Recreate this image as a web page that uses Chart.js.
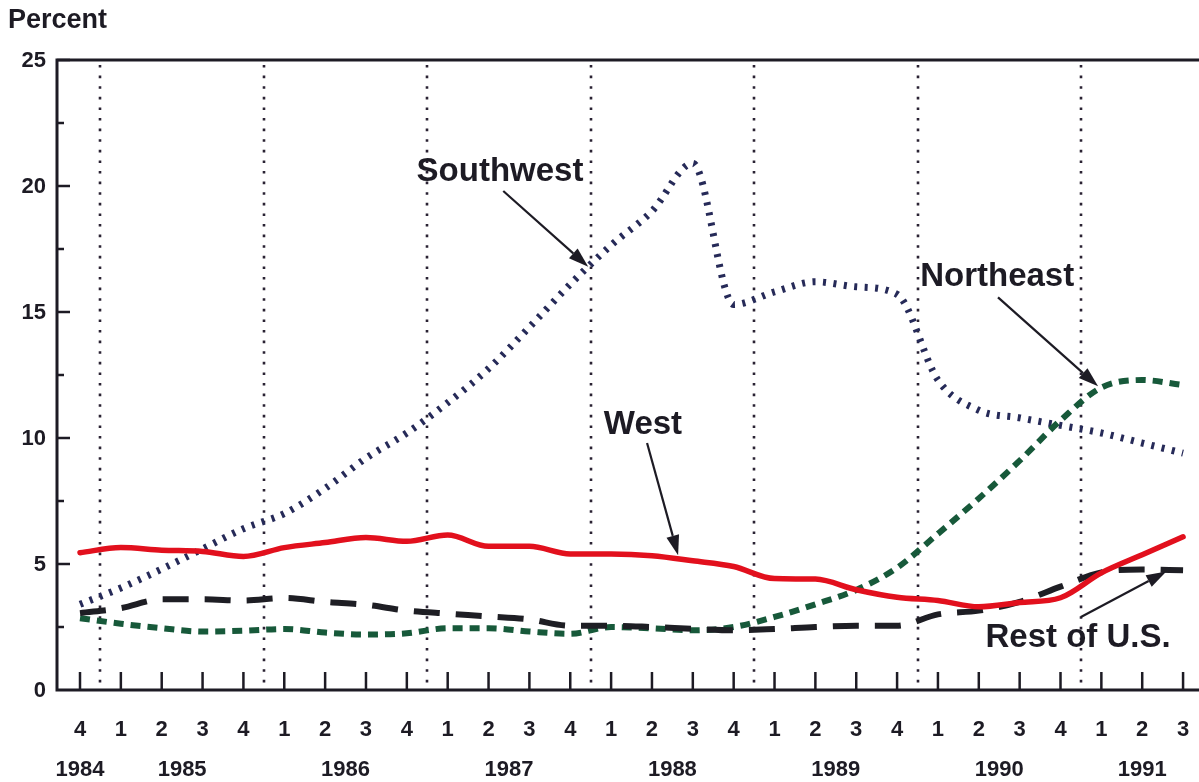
<!DOCTYPE html>
<html>
<head>
<meta charset="utf-8">
<title>Percent by region, 1984-1991</title>
<script src="https://cdn.jsdelivr.net/npm/chart.js@4.4.1/dist/chart.umd.min.js"></script>
<style>
  html, body { margin: 0; padding: 0; background: #fff; }
  #wrap { width: 1199px; height: 782px; }
</style>
</head>
<body>
<div id="wrap"><canvas id="regionChart" width="1199" height="782"></canvas></div>
<script>
// Quarter tick labels, 1984 Q4 through 1991 Q3
const quarterLabels = ['4', '1', '2', '3', '4', '1', '2', '3', '4', '1', '2', '3', '4', '1',
                       '2', '3', '4', '1', '2', '3', '4', '1', '2', '3', '4', '1', '2', '3'];
const quarterYears = [1984, 1985, 1985, 1985, 1985, 1986, 1986, 1986, 1986, 1987, 1987, 1987, 1987, 1988,
                      1988, 1988, 1988, 1989, 1989, 1989, 1989, 1990, 1990, 1990, 1990, 1991, 1991, 1991];
const yTickLabels = [0, 5, 10, 15, 20, 25];

// Series values (percent)
const west = [5.45, 5.65, 5.55, 5.5, 5.3, 5.65, 5.85, 6.05, 5.9, 6.15, 5.7, 5.7, 5.4, 5.4,
              5.33, 5.13, 4.9, 4.42, 4.4, 3.98, 3.68, 3.55, 3.3, 3.47, 3.66, 4.65, 5.37, 6.08];
const restOfUS = [3.05, 3.25, 3.6, 3.6, 3.55, 3.65, 3.5, 3.38, 3.15, 3.03, 2.92, 2.8, 2.55, 2.55,
                  2.5, 2.43, 2.37, 2.42, 2.5, 2.55, 2.55, 3.0, 3.15, 3.5, 4.1, 4.67, 4.78, 4.75];
const northeast = [2.85, 2.63, 2.45, 2.32, 2.35, 2.42, 2.28, 2.2, 2.25, 2.45, 2.45, 2.32, 2.23, 2.5,
                   2.45, 2.37, 2.5, 2.9, 3.4, 3.97, 4.85, 6.2, 7.6, 9.1, 10.7, 12.0, 12.3, 12.1];
const southwest = [3.4, 4.05, 4.8, 5.6, 6.4, 7.0, 8.0, 9.2, 10.2, 11.4, 12.75, 14.4, 16.1, 17.65,
                   19.0, 20.9, 15.3, 15.8, 16.2, 16.0, 15.7, 12.3, 11.1, 10.8, 10.5, 10.2, 9.8, 9.4];

const FONT = '"Liberation Sans", Arial, Helvetica, sans-serif';
const INK = '#1d1b24';

// Callout labels, in data units (quarter index, percent)
const callouts = [
    { text: 'Southwest', at: [10.28, 20.55], from: [10.36, 19.8], to: [12.44, 16.8] },
    { text: 'West', at: [13.78, 10.53], from: [13.88, 9.8], to: [14.64, 5.35] },
    { text: 'Northeast', at: [22.45, 16.38], from: [22.47, 15.58], to: [24.92, 12.05] },
    { text: 'Rest of U.S.', at: [24.43, 2.05], from: [24.5, 2.9], to: [26.59, 4.7] }
];

function toPoints(values) {
    return values.map((v, i) => ({ x: i, y: v }));
}

function drawArrow(ctx, x1, y1, x2, y2) {
    const ang = Math.atan2(y2 - y1, x2 - x1);
    const headLen = 20, headHalf = 6.5;
    const bx = x2 - headLen * Math.cos(ang);
    const by = y2 - headLen * Math.sin(ang);
    ctx.beginPath();
    ctx.moveTo(x1, y1);
    ctx.lineTo(bx, by);
    ctx.stroke();
    ctx.beginPath();
    ctx.moveTo(x2, y2);
    ctx.lineTo(bx + headHalf * Math.sin(ang), by - headHalf * Math.cos(ang));
    ctx.lineTo(bx - headHalf * Math.sin(ang), by + headHalf * Math.cos(ang));
    ctx.closePath();
    ctx.fill();
}

const framePlugin = {
    id: 'frame',
    beforeDatasetsDraw(chart) {
        const { ctx, chartArea: a, scales: { x } } = chart;
        ctx.save();
        // dotted separators between years
        ctx.strokeStyle = '#2a2233';
        ctx.lineWidth = 2.6;
        ctx.setLineDash([2.6, 8]);
        for (let i = 0; i < quarterYears.length - 1; i++) {
            if (quarterYears[i] !== quarterYears[i + 1]) {
                const px = Math.round(x.getPixelForValue(i + 0.5));
                ctx.beginPath();
                ctx.moveTo(px, a.top + 5);
                ctx.lineTo(px, a.bottom - 2);
                ctx.stroke();
            }
        }
        ctx.restore();
    },
    afterDatasetsDraw(chart) {
        const { ctx, chartArea: a, scales: { x, y } } = chart;
        ctx.save();
        ctx.strokeStyle = INK;
        ctx.fillStyle = INK;

        // frame: left axis, bottom axis, top border
        ctx.lineWidth = 3;
        ctx.beginPath();
        ctx.moveTo(a.right, a.top);
        ctx.lineTo(a.left, a.top);
        ctx.lineTo(a.left, a.bottom);
        ctx.lineTo(a.right, a.bottom);
        ctx.stroke();

        // y ticks, inside, every 2.5
        ctx.lineWidth = 2.5;
        for (let v = 2.5; v <= 25; v += 2.5) {
            const py = y.getPixelForValue(v);
            const len = v % 5 === 0 ? 13 : 7;
            ctx.beginPath();
            ctx.moveTo(a.left, py);
            ctx.lineTo(a.left + len, py);
            ctx.stroke();
        }

        // x ticks, pointing up from the axis
        quarterLabels.forEach((q, i) => {
            const px = x.getPixelForValue(i);
            ctx.beginPath();
            ctx.moveTo(px, a.bottom);
            ctx.lineTo(px, a.bottom - 18);
            ctx.stroke();
        });

        // y labels
        ctx.font = 'bold 22px ' + FONT;
        ctx.textAlign = 'right';
        ctx.textBaseline = 'middle';
        yTickLabels.forEach(v => {
            ctx.fillText(String(v), a.left - 11, y.getPixelForValue(v) + 1);
        });

        // quarter and year labels
        ctx.textAlign = 'center';
        quarterLabels.forEach((q, i) => {
            ctx.fillText(q, x.getPixelForValue(i), a.bottom + 40);
        });
        const years = [...new Set(quarterYears)];
        years.forEach(yr => {
            const idx = quarterYears.map((v, i) => v === yr ? i : -1).filter(i => i >= 0);
            const mid = idx.reduce((s, i) => s + i, 0) / idx.length;
            ctx.fillText(String(yr), x.getPixelForValue(mid), a.bottom + 80);
        });

        // axis title
        ctx.font = 'bold 27px ' + FONT;
        ctx.textAlign = 'left';
        ctx.textBaseline = 'alphabetic';
        ctx.fillText('Percent', 8, 28);

        // callouts with arrows
        ctx.font = 'bold 33px ' + FONT;
        ctx.textAlign = 'center';
        ctx.textBaseline = 'middle';
        ctx.lineWidth = 2.2;
        callouts.forEach(c => {
            ctx.fillText(c.text, x.getPixelForValue(c.at[0]), y.getPixelForValue(c.at[1]));
            drawArrow(ctx,
                x.getPixelForValue(c.from[0]), y.getPixelForValue(c.from[1]),
                x.getPixelForValue(c.to[0]), y.getPixelForValue(c.to[1]));
        });
        ctx.restore();
    }
};

const ctx = document.getElementById('regionChart').getContext('2d');
const chart = new Chart(ctx, {
    type: 'line',
    data: {
        datasets: [
            {
                label: 'West',
                data: toPoints(west),
                borderColor: '#e2101d',
                borderWidth: 5.5,
                borderCapStyle: 'round'
            },
            {
                label: 'Rest of U.S.',
                data: toPoints(restOfUS),
                borderColor: '#1e1e24',
                borderWidth: 6,
                borderDash: [26, 16]
            },
            {
                label: 'Northeast',
                data: toPoints(northeast),
                borderColor: '#17593a',
                borderWidth: 6,
                borderDash: [10, 7]
            },
            {
                label: 'Southwest',
                data: toPoints(southwest),
                borderColor: '#262a58',
                borderWidth: 7,
                borderDash: [3, 7.5]
            }
        ]
    },
    options: {
        responsive: false,
        animation: false,
        devicePixelRatio: 1,
        layout: { padding: { left: 57, top: 60, right: 0, bottom: 92 } },
        elements: {
            point: { radius: 0, hoverRadius: 0 },
            line: { fill: false, cubicInterpolationMode: 'monotone' }
        },
        scales: {
            x: { type: 'linear', min: -0.563, max: 27.39, display: false },
            y: { min: 0, max: 25, display: false }
        },
        plugins: {
            legend: { display: false },
            tooltip: { enabled: false }
        }
    },
    plugins: [framePlugin]
});
</script>
</body>
</html>
